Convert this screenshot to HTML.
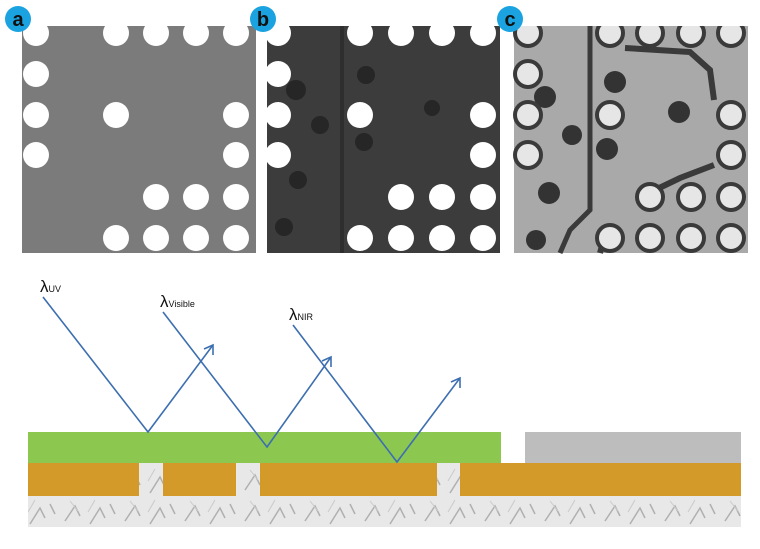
<!DOCTYPE html><html><head><style>body{margin:0;background:#fff;width:760px;height:544px;overflow:hidden}</style></head><body>
<svg width="760" height="544" xmlns="http://www.w3.org/2000/svg" font-family="Liberation Sans, sans-serif">
<defs>
<pattern id="m" width="60" height="31" patternUnits="userSpaceOnUse"><rect width="60" height="31" fill="#e8e8e8"/><path d="M5 25 L15 10 L20 20 M30 28 L40 12 L45 22 M50 8 L55 18" stroke="#b0b0b0" stroke-width="1.5" fill="none"/><path d="M10 5 L18 15 M35 4 L28 16" stroke="#cacaca" fill="none"/></pattern>
</defs>
<!-- panel a -->
<rect x="22" y="26" width="234" height="227" fill="#7b7b7b"/>
<g fill="#fff">
<circle cx="36" cy="33" r="13"/><circle cx="116" cy="33" r="13"/><circle cx="156" cy="33" r="13"/><circle cx="196" cy="33" r="13"/><circle cx="236" cy="33" r="13"/>
<circle cx="36" cy="74" r="13"/>
<circle cx="36" cy="115" r="13"/><circle cx="116" cy="115" r="13"/><circle cx="236" cy="115" r="13"/>
<circle cx="36" cy="155" r="13"/><circle cx="236" cy="155" r="13"/>
<circle cx="156" cy="197" r="13"/><circle cx="196" cy="197" r="13"/><circle cx="236" cy="197" r="13"/>
<circle cx="116" cy="238" r="13"/><circle cx="156" cy="238" r="13"/><circle cx="196" cy="238" r="13"/><circle cx="236" cy="238" r="13"/>
</g>
<!-- panel b -->
<rect x="267" y="26" width="233" height="227" fill="#3c3c3c"/>
<rect x="340" y="26" width="4" height="227" fill="#2e2e2e"/>
<g fill="#262626"><circle cx="296" cy="90" r="10"/><circle cx="320" cy="125" r="9"/><circle cx="366" cy="75" r="9"/><circle cx="364" cy="142" r="9"/><circle cx="298" cy="180" r="9"/><circle cx="284" cy="227" r="9"/><circle cx="432" cy="108" r="8"/></g>
<g fill="#fff">
<circle cx="278" cy="33" r="13"/><circle cx="360" cy="33" r="13"/><circle cx="401" cy="33" r="13"/><circle cx="442" cy="33" r="13"/><circle cx="483" cy="33" r="13"/>
<circle cx="278" cy="74" r="13"/>
<circle cx="278" cy="115" r="13"/><circle cx="360" cy="115" r="13"/><circle cx="483" cy="115" r="13"/>
<circle cx="278" cy="155" r="13"/><circle cx="483" cy="155" r="13"/>
<circle cx="401" cy="197" r="13"/><circle cx="442" cy="197" r="13"/><circle cx="483" cy="197" r="13"/>
<circle cx="360" cy="238" r="13"/><circle cx="401" cy="238" r="13"/><circle cx="442" cy="238" r="13"/><circle cx="483" cy="238" r="13"/>
</g>
<!-- panel c -->
<rect x="514" y="26" width="234" height="227" fill="#a9a9a9"/>
<path d="M590 26 L590 210 L570 230 L560 253" stroke="#3a3a3a" stroke-width="5" fill="none"/>
<path d="M625 48 L690 52 L710 70 L714 100 M714 165 L680 178 L655 190 M600 253 L605 235" stroke="#3a3a3a" stroke-width="6" fill="none"/>
<g fill="#333"><circle cx="545" cy="97" r="11"/><circle cx="572" cy="135" r="10"/><circle cx="549" cy="193" r="11"/><circle cx="536" cy="240" r="10"/><circle cx="615" cy="82" r="11"/><circle cx="679" cy="112" r="11"/><circle cx="607" cy="149" r="11"/></g>
<g fill="#e6e6e6" stroke="#3a3a3a" stroke-width="4">
<circle cx="528" cy="33" r="13"/><circle cx="610" cy="33" r="13"/><circle cx="650" cy="33" r="13"/><circle cx="691" cy="33" r="13"/><circle cx="731" cy="33" r="13"/>
<circle cx="528" cy="74" r="13"/>
<circle cx="528" cy="115" r="13"/><circle cx="610" cy="115" r="13"/><circle cx="731" cy="115" r="13"/>
<circle cx="528" cy="155" r="13"/><circle cx="731" cy="155" r="13"/>
<circle cx="650" cy="197" r="13"/><circle cx="691" cy="197" r="13"/><circle cx="731" cy="197" r="13"/>
<circle cx="610" cy="238" r="13"/><circle cx="650" cy="238" r="13"/><circle cx="691" cy="238" r="13"/><circle cx="731" cy="238" r="13"/>
</g>
<rect x="0" y="0" width="760" height="26" fill="#fff"/>
<g fill="#1aa3e0"><circle cx="18" cy="19" r="13"/><circle cx="263" cy="19" r="13"/><circle cx="510" cy="19" r="13"/></g>
<g font-weight="bold" font-size="20" fill="#111" text-anchor="middle"><text x="18" y="26">a</text><text x="263" y="26">b</text><text x="510" y="26">c</text></g>
<!-- bottom diagram -->
<rect x="28" y="496" width="713" height="31" fill="url(#m)"/>
<rect x="28" y="463" width="713" height="33" fill="url(#m)"/>
<g fill="#d39a2a"><rect x="28" y="463" width="111" height="33"/><rect x="163" y="463" width="73" height="33"/><rect x="260" y="463" width="177" height="33"/><rect x="460" y="463" width="281" height="33"/></g>
<rect x="28" y="432" width="473" height="31" fill="#8cc850"/>
<rect x="525" y="432" width="216" height="31" fill="#bdbdbd"/>
<g stroke="#3d6fb0" stroke-width="1.6" fill="none">
<path d="M43 297 L148 432 L213 345"/><path d="M204 349 L213 345 L213 355"/>
<path d="M163 312 L267 447 L331 357"/><path d="M322 361 L331 357 L331 367"/>
<path d="M293 325 L397 462 L460 378"/><path d="M451 382 L460 378 L460 388"/>
</g>
<g fill="#111" font-size="17"><text x="40" y="292">λ<tspan font-size="9">UV</tspan></text><text x="160" y="307">λ<tspan font-size="9">Visible</tspan></text><text x="289" y="320">λ<tspan font-size="9">NIR</tspan></text></g>
</svg>
</body></html>
